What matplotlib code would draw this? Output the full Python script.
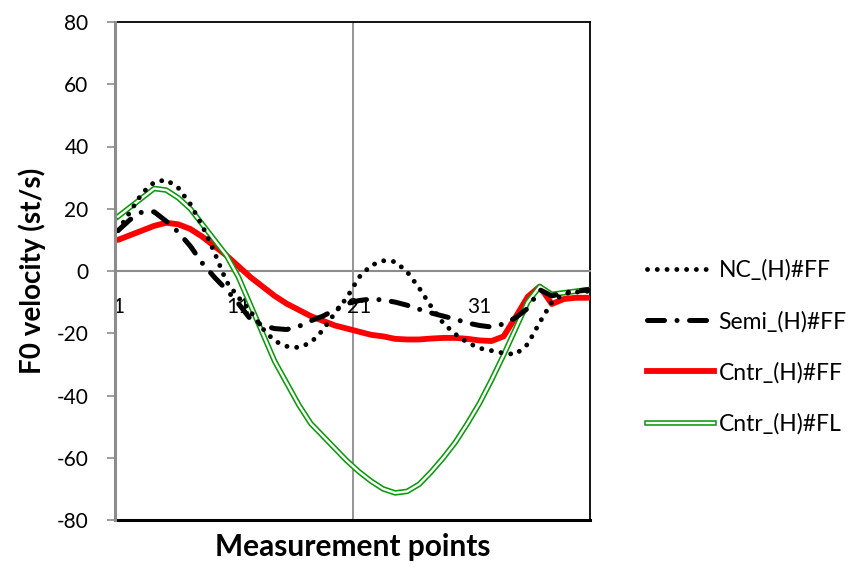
import matplotlib
matplotlib.use("Agg")
import matplotlib.pyplot as plt
from matplotlib.lines import Line2D

# Measurement points along the contour
points = list(range(1, 41))

nc_ff = [13, 19, 25, 28.5, 29.3, 26.7, 21.5, 14.5, 6, -3.4,
         -8.5, -13, -18.5, -22.5, -24.2, -24.6, -23, -19, -13.5, -8.5,
         -2, 1.8, 3.3, 3, -0.3, -5.5, -11.5, -16.8, -20.3, -23,
         -24.8, -25.6, -26.4, -26.8, -23.5, -16.5, -10, -7.3, -6.8, -6.5]

semi_ff = [13, 16.5, 19, 19, 16, 12.5, 8, 2.5, -2, -6,
           -10.5, -15.5, -17.5, -18.5, -18.8, -17.8, -16, -14.5, -12.5, -10.5,
           -9.5, -9, -9.3, -10, -11, -12.3, -13.5, -14.5, -15.5, -16.7,
           -17.5, -18, -17, -15, -12, -6, -8, -7, -6.5, -6]

cntr_ff = [10, 11.5, 13, 14.5, 15.5, 15, 13.5, 11, 8, 5,
           1.5, -2, -5, -8, -10.5, -12.5, -14.5, -16, -17.5, -18.5,
           -19.5, -20.5, -21, -21.8, -22, -22, -21.7, -21.5, -21.5, -21.8,
           -22.3, -22.5, -21, -14.8, -8.3, -5, -10.6, -9, -8.6, -8.6]

cntr_fl = [17.5, 20.5, 23.5, 26.5, 26, 23.5, 20, 15, 10, 5,
           -2, -11, -20, -29, -36, -43, -49, -53, -57, -61,
           -64.5, -67.5, -70, -71.3, -70.8, -68.5, -64.5, -60, -55, -49,
           -42.5, -35, -27, -18.5, -10, -5, -7.5, -7, -6.5, -6]

series_names = ["NC_(H)#FF", "Semi_(H)#FF", "Cntr_(H)#FF", "Cntr_(H)#FL"]
x_tick_pos = [1, 11, 21, 31]
x_tick_labels = ["1", "11", "21", "31"]
y_ticks = [-80, -60, -40, -20, 0, 20, 40, 60, 80]

plt.rcParams["font.family"] = ["Lato", "DejaVu Sans"]

fig = plt.figure(figsize=(8.58, 5.67), dpi=100)
ax = fig.add_axes([115 / 858, 1 - 520 / 567, 475 / 858, 498 / 567])

grey = "#8c8c8c"

# series
ax.plot(points, cntr_ff, color="#ff0000", lw=4.2, solid_capstyle="round",
        solid_joinstyle="round", zorder=3)
fl_outer, = ax.plot(points, cntr_fl, color="#0a9a0a", lw=4.0, zorder=4)
fl_inner, = ax.plot(points, cntr_fl, color="white", lw=1.7, zorder=4.1)
nc_line, = ax.plot(points, nc_ff, color="black", lw=3.5,
                   linestyle=(0, (0.01, 2.0)), dash_capstyle="round", zorder=5)
semi_line, = ax.plot(points, semi_ff, color="black", lw=3.6,
                     linestyle=(0, (3.4, 2.5, 0.01, 2.5)),
                     dash_capstyle="round", zorder=6)
red_handle = Line2D([], [], color="#ff0000", lw=4.2)

ax.set_xlim(0.75, 40.17)
ax.set_ylim(-80, 80)
ax.set_yticks(y_ticks)
ax.set_yticklabels([str(v) for v in y_ticks], fontsize=15)
ax.tick_params(axis="y", direction="out", length=6, width=1.2, color=grey, pad=13)

# category axis crossing at zero
ax.spines["bottom"].set_position(("data", 0))
ax.spines["bottom"].set_color(grey)
ax.spines["bottom"].set_linewidth(1.5)
ax.set_xticks(x_tick_pos)
ax.set_xticklabels(x_tick_labels, fontsize=15)
ax.tick_params(axis="x", length=0, pad=19)

ax.spines["left"].set_color(grey)
ax.spines["left"].set_linewidth(2.2)
ax.spines["left"].set_zorder(7)
for side in ("top", "right"):
    ax.spines[side].set_color("black")
    ax.spines[side].set_linewidth(1.3)
ax.axhline(ax.get_ylim()[0], color="black", lw=2.2, clip_on=False, zorder=6.5)
ax.axvline(20.5, color=grey, lw=1.3, zorder=1)

ax.set_ylabel("F0 velocity (st/s)", fontsize=20, fontweight="bold", labelpad=8)
fig.text(353 / 858, 1 - 547 / 567, "Measurement points", fontsize=21.5,
         fontweight="bold", ha="center", va="center")

leg = ax.legend([nc_line, semi_line, red_handle, (fl_outer, fl_inner)],
                series_names, loc="center left",
                bbox_to_anchor=(636 / 858, 1 - 347 / 567),
                bbox_transform=fig.transFigure, frameon=False, fontsize=16.5,
                handlelength=2.9, handletextpad=0.2, labelspacing=1.3,
                borderpad=0)

fig.savefig("out.png", dpi=100)
